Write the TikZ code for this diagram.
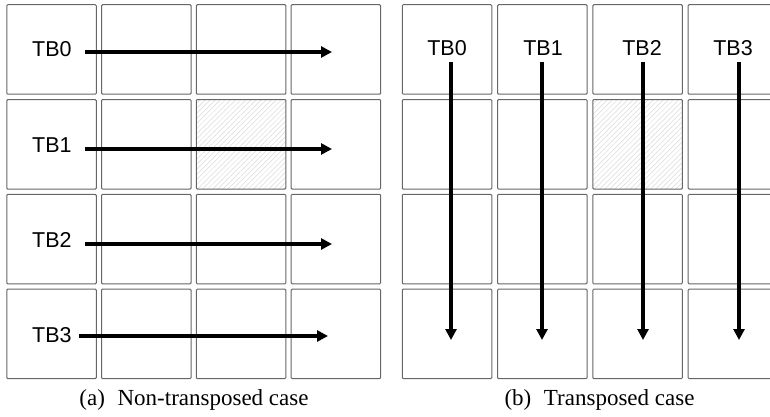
\documentclass[tikz,border=0pt]{standalone}
\usepackage{fontspec}
\setmainfont{Liberation Serif}
\newfontfamily\tbfont{Liberation Sans}
\usetikzlibrary{arrows.meta,patterns.meta}
\usetikzlibrary{positioning}

\tikzset{
  cell/.style={draw=black!60,line width=1pt,rounded corners=1pt,minimum width=89.5pt,minimum height=89.5pt,inner sep=0pt},
  busy/.style={pattern={Lines[angle=45,distance=3.6pt,line width=0.5pt]},pattern color=black!15},
  tblabel/.style={font=\tbfont\fontsize{21.5}{25}\selectfont,inner sep=0pt},
  flow/.style={-{Triangle[length=11pt,width=11pt]},line width=3.3pt},
  subcap/.style={font=\fontsize{23}{27}\selectfont,inner sep=0pt}
}

\begin{document}
\begin{tikzpicture}[x=1pt,y=-1pt]
\useasboundingbox (0,0) rectangle (770,417);
% the two 4x4 grids of blocks
\foreach \r in {0,...,3}
  \foreach \c in {0,...,3}{
    \ifnum\r\c=12 \def\look{busy}\else\def\look{}\fi
    \node[cell,\look] (a-\r-\c) at ({51.5+94.8*\c},{49.5+94.8*\r}) {};
    \node[cell,\look] (b-\r-\c) at ({447+95.3*\c},{49.5+94.8*\r}) {};
  }
% (a) row-wise thread blocks
\foreach \r/\ly/\ay/\xe/\gap in {0/49/52/332/13,1/145.5/149/332/13,2/240/244/332/13,3/335/336/328/7}{
  \node[tblabel,anchor=west] (a-lbl-\r) at (32,\ly) {TB\r};
  \coordinate (a-end-\r) at (\xe,\ay);
  \draw[flow,shorten <=\gap pt] (a-lbl-\r.east |- a-end-\r) -- (a-end-\r);
}
% (b) column-wise thread blocks
\foreach \c/\lx/\ax in {0/447/451,1/543/542,2/642/643,3/733/739}{
  \node[tblabel] (b-lbl-\c) at (\lx,48) {TB\c};
  \coordinate (b-end-\c) at (\ax,340);
  \draw[flow,shorten <=6pt] (b-lbl-\c.south -| b-end-\c) -- (b-end-\c);
}
% captions
\node[subcap] (cap-a) at (194,400) {(a)\hspace{0.3em} Non-transposed case};
\node[subcap] (cap-b) at (599.5,400) {(b)\hspace{0.3em} Transposed case};
\end{tikzpicture}
\end{document}
